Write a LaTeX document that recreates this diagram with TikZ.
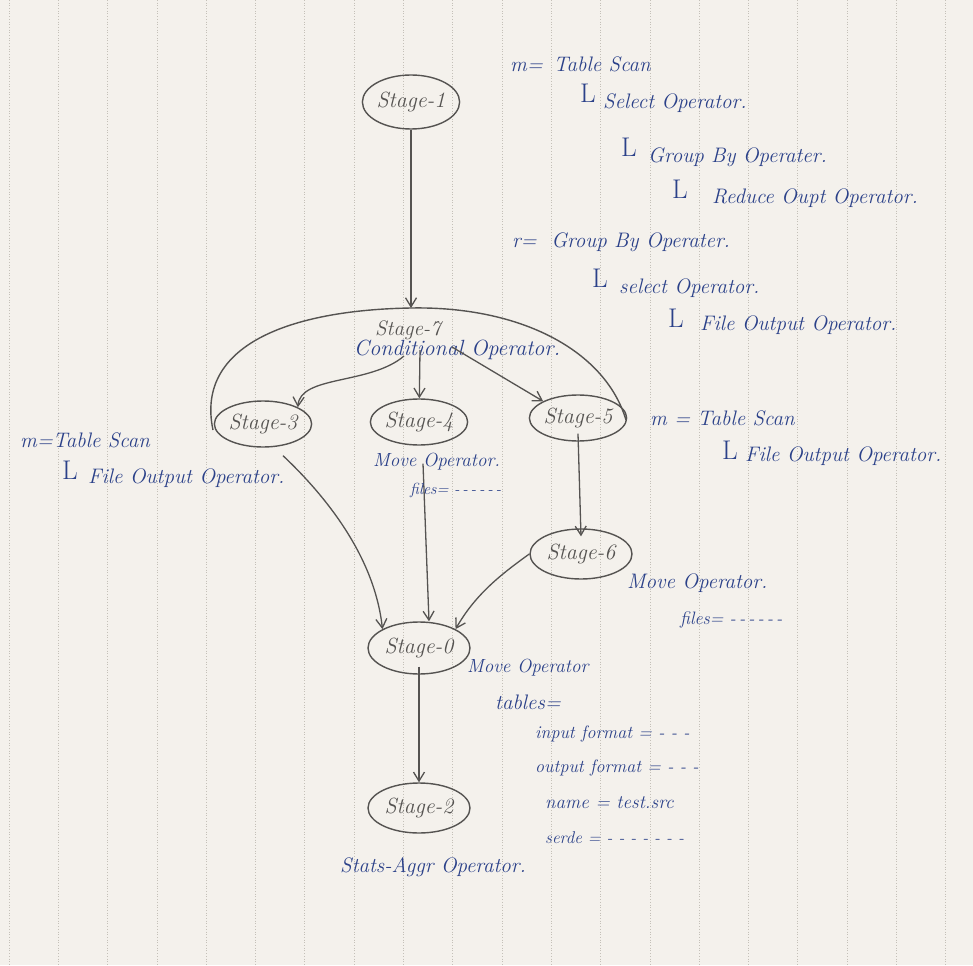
\documentclass[tikz,border=0pt]{standalone}
\usetikzlibrary{shapes.geometric,arrows.meta}
\definecolor{paper}{HTML}{F4F1EC}
\definecolor{rule}{HTML}{C4C0B8}
\definecolor{pencil}{HTML}{555351}
\definecolor{ink}{HTML}{2B4189}
\begin{document}
\begin{tikzpicture}[x=1pt,y=-1pt,
  stagebox/.style={ellipse,draw=pencil,line width=1.4pt,minimum width=96pt,minimum height=46pt,inner sep=0pt,text=pencil,font=\fontsize{22}{24}\selectfont\itshape},
  conn/.style={draw=pencil,line width=1.3pt,-{Straight Barb[length=9pt,width=11pt,line width=1.3pt]}},
  note/.style={text=ink,anchor=west,inner sep=0pt,font=\fontsize{21}{24}\selectfont\itshape},
  small/.style={note,font=\fontsize{19}{22}\selectfont\itshape},
  bar/.style={text=ink,anchor=west,inner sep=0pt,font=\fontsize{27}{28}\selectfont}]
\useasboundingbox (0,0) rectangle (973,965);
\fill[paper] (0,0) rectangle (973,965);
\foreach \i in {0,...,19} {\draw[rule,line width=0.7pt,dotted] (9+49.3*\i,0) -- (9+49.3*\i,965);}
% stages
\node[stagebox,minimum width=96pt,minimum height=54pt] (s1) at (411,102) {Stage-1};
\node[stagebox] (s3) at (263,424) {Stage-3};
\node[stagebox] (s4) at (419,422) {Stage-4};
\node[stagebox] (s5) at (578,418) {Stage-5};
\node[stagebox,minimum width=102pt,minimum height=50pt] (s6) at (581,554) {Stage-6};
\node[stagebox,minimum width=102pt,minimum height=52pt] (s0) at (419,648) {Stage-0};
\node[stagebox,minimum width=102pt,minimum height=50pt] (s2) at (419,808) {Stage-2};
% stage 7 arc
\coordinate (s7top) at (411,308);
\coordinate (s7l) at (213,430);
\coordinate (s7r) at (626,420);
\draw[pencil,line width=1.4pt] (s7l) .. controls (195,345) and (290,310) .. (s7top) .. controls (520,306) and (605,350) .. (s7r);
\node[text=pencil,inner sep=0pt,font=\fontsize{21}{24}\selectfont\itshape] (s7) at (408,330) {Stage-7};
\node[text=ink,inner sep=0pt,font=\fontsize{22}{24}\selectfont\itshape] (s7op) at (457,350) {Conditional Operator.};
\coordinate (s7a) at (404,356);
\coordinate (s7b) at (420,350);
\coordinate (s7c) at (452,347);
% connectors
\draw[conn] (s1) -- (s7top);
\draw[conn] (s7a) .. controls (370,385) and (300,375) .. (s3.north east);
\draw[conn] (s7b) -- (s4);
\draw[conn] (s7c) -- (s5.north west);
\draw[conn] ([shift={(20,8)}]s3.south) .. controls (330,500) and (375,560) .. (s0.north west);
\draw[conn] ([shift={(4,18)}]s4.south) -- ([xshift=10pt]s0.north);
\draw[conn] ([yshift=8pt]s5.south) -- ([yshift=-8pt]s6.north);
\draw[conn] (s6.west) .. controls (500,575) and (475,595) .. (s0.north east);
\draw[conn] ([yshift=8pt]s0.south) -- (s2);
% top-right annotation
\node[note] (m1) at (510,64) {m=\,\ Table Scan};
\node[bar] (l1) at (580,93) {L};
\node[note] (t1) at (603,103) {Select Operator.};
\node[bar] (l2) at (621,147) {L};
\node[note] (t2) at (648,157) {Group By Operater.};
\node[bar] (l3) at (672,189) {L};
\node[note] (t3) at (712,198) {Reduce Oupt Operator.};
\node[note] (r1) at (512,242) {r=\ \ Group By Operater.};
\node[bar] (l4) at (592,278) {L};
\node[note] (t4) at (619,288) {select Operator.};
\node[bar] (l5) at (668,318) {L};
\node[note] (t5) at (700,325) {File Output Operator.};
% left annotation
\node[note] (m2) at (20,440) {m=Table Scan};
\node[bar] (l6) at (62,470) {L};
\node[note] (t6) at (88,478) {File Output Operator.};
% stage-4 annotation
\node[note,font=\fontsize{19}{22}\selectfont\itshape] (mv4) at (373,462) {Move Operator.};
\node[note,font=\fontsize{16}{18}\selectfont\itshape] (f4) at (410,490) {files= -\,-\,-\,-\,-\,-};
% stage-5 annotation
\node[note] (m3) at (650,418) {m = Table Scan};
\node[bar] (l7) at (722,450) {L};
\node[note] (t7) at (745,456) {File Output Operator.};
% stage-6 annotation
\node[note] (mv6) at (627,583) {Move Operator.};
\node[note,font=\fontsize{18}{20}\selectfont\itshape] (f6) at (680,620) {files= -\,-\,-\,-\,-\,-};
% stage-0 annotation
\node[note,font=\fontsize{19}{22}\selectfont\itshape] (mv0) at (467,668) {Move Operator};
\node[note] (tb) at (495,702) {tables=};
\node[small,font=\fontsize{18}{20}\selectfont\itshape] (inf) at (535,734) {input format = - - -};
\node[small,font=\fontsize{18}{20}\selectfont\itshape] (outf) at (535,768) {output format = - - -};
\node[small] (nm) at (545,803) {name = test.src};
\node[small,font=\fontsize{17}{20}\selectfont\itshape] (sd) at (545,838) {serde = - - - - - - -};
% stage-2 annotation
\node[note] (sa) at (340,867) {Stats-Aggr Operator.};
\end{tikzpicture}
\end{document}
